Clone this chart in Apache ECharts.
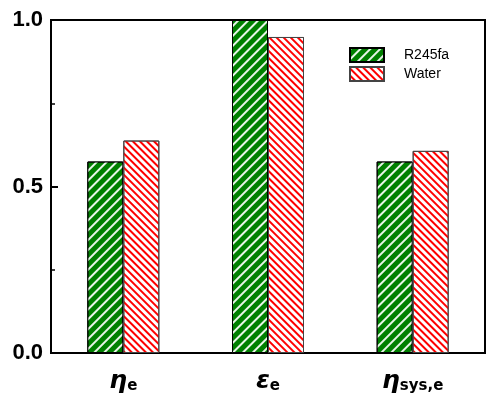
<!DOCTYPE html>
<html>
<head>
<meta charset="utf-8">
<script src="https://cdn.jsdelivr.net/npm/echarts@6/dist/echarts.min.js"></script>
<style>
  html, body { margin: 0; padding: 0; background: #fff; }
  #chart { width: 486px; height: 400px; }
</style>
</head>
<body>
<div id="chart"></div>
<script>
var categories = ['eta_e', 'eps_e', 'eta_sys'];
var r245fa = [0.575, 1.0, 0.575];
var water = [0.638, 0.949, 0.607];
var yTicks = [0, 0.5, 1.0];

var myChart = echarts.init(document.getElementById('chart'));

// subscripted greek labels
var catLabels = {
    eta_e: '{g|η}{s|e}',
    eps_e: '{g|ε}{s|e}',
    eta_sys: '{g|η}{s|sys,e}'
};

var option = {
    backgroundColor: '#fff',
    animation: false,
    grid: {
        left: 51,
        right: 1,
        top: 20,
        bottom: 47,
        show: true,
        borderColor: '#000',
        borderWidth: 2
    },
    legend: {
        left: 344,
        top: 42,
        orient: 'vertical',
        itemWidth: 34,
        itemHeight: 14,
        itemGap: 3,
        icon: 'rect',
        textStyle: {
            fontFamily: 'Liberation Sans',
            fontSize: 14,
            color: '#000',
            padding: [0, 0, 0, 15]
        },
        data: ['R245fa', 'Water']
    },
    xAxis: {
        type: 'category',
        data: categories,
        axisLine: { lineStyle: { color: '#000', width: 2 } },
        axisTick: { show: false },
        axisLabel: {
            margin: 16,
            formatter: function (value) {
                return catLabels[value];
            },
            rich: {
                g: {
                    fontFamily: 'DejaVu Sans',
                    fontWeight: 'bold',
                    fontStyle: 'italic',
                    fontSize: 25,
                    color: '#000'
                },
                s: {
                    fontFamily: 'DejaVu Sans',
                    fontWeight: 'bold',
                    fontSize: 15,
                    color: '#000',
                    verticalAlign: 'bottom',
                    padding: [10, 0, 0, 0]
                }
            }
        }
    },
    yAxis: {
        type: 'value',
        min: yTicks[0],
        max: yTicks[yTicks.length - 1],
        interval: 0.5,
        axisLine: { show: true, lineStyle: { color: '#000', width: 2 } },
        axisTick: { show: true, inside: true, length: 7, lineStyle: { color: '#000', width: 2 } },
        minorTick: { show: true, splitNumber: 2, length: 4, lineStyle: { color: '#000', width: 1.5 } },
        splitLine: { show: false },
        axisLabel: {
            margin: 8,
            fontFamily: 'Liberation Sans',
            fontWeight: 'bold',
            fontSize: 22,
            color: '#000',
            formatter: function (v) { return v.toFixed(1); }
        }
    },
    series: [{
        name: 'R245fa',
        type: 'bar',
        data: r245fa,
        barWidth: 36,
        barGap: '0%',
        itemStyle: {
            color: '#008000',
            borderColor: '#000',
            borderWidth: 1,
            decal: {
                symbol: 'rect',
                color: '#e8f5e8',
                dashArrayX: [1, 0],
                dashArrayY: [1.2, 4.5],
                rotation: -Math.PI / 4
            }
        }
    }, {
        name: 'Water',
        type: 'bar',
        data: water,
        barWidth: 36,
        itemStyle: {
            color: '#ffffff',
            borderColor: '#444',
            borderWidth: 1,
            decal: {
                symbol: 'rect',
                color: '#ff0000',
                dashArrayX: [1, 0],
                dashArrayY: [1.5, 2.2],
                rotation: Math.PI / 4
            }
        }
    }]
};

myChart.setOption(option);
</script>
</body>
</html>
